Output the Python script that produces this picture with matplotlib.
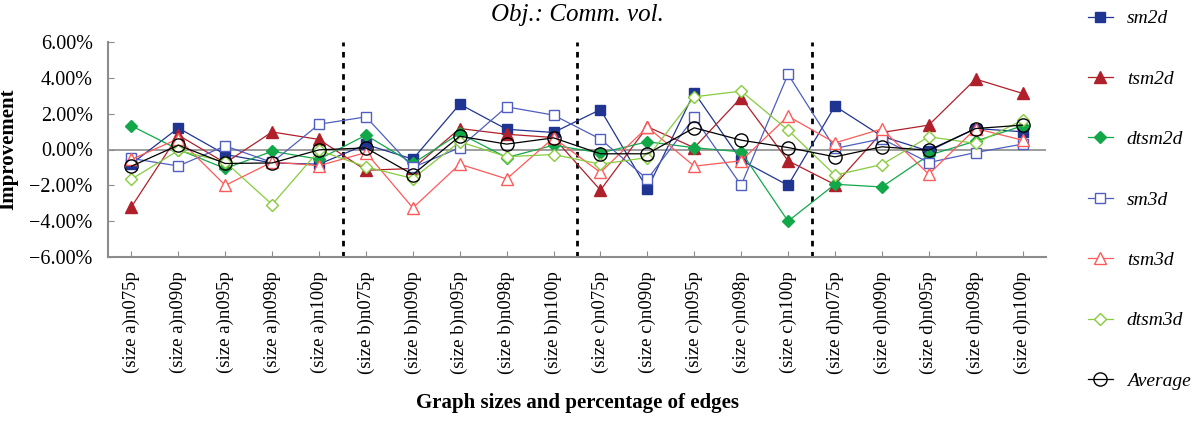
import matplotlib
matplotlib.use("Agg")
import matplotlib.pyplot as plt
import numpy as np
from matplotlib.ticker import FuncFormatter

plt.rcParams['font.family'] = ['Liberation Serif', 'DejaVu Serif']

categories = ["(size a)n075p", "(size a)n090p", "(size a)n095p", "(size a)n098p", "(size a)n100p",
              "(size b)n075p", "(size b)n090p", "(size b)n095p", "(size b)n098p", "(size b)n100p",
              "(size c)n075p", "(size c)n090p", "(size c)n095p", "(size c)n098p", "(size c)n100p",
              "(size d)n075p", "(size d)n090p", "(size d)n095p", "(size d)n098p", "(size d)n100p"]

sm2d = [-0.80, 1.20, -0.28, -0.75, -0.82, 0.28, -0.54, 2.53, 1.13, 0.95,
        2.23, -2.20, 3.18, -0.60, -2.00, 2.42, 0.74, -0.09, 1.17, 0.99]
tsm2d = [-3.20, 0.80, -0.75, 0.98, 0.56, -1.16, -1.06, 1.17, 0.85, 0.67,
         -2.27, 1.27, 0.10, 2.90, -0.63, -1.96, 0.95, 1.36, 3.93, 3.13]
dtsm2d = [1.32, 0.00, -1.06, -0.10, -0.54, 0.80, -0.78, 0.90, -0.45, 0.24,
          -0.19, 0.43, 0.10, -0.13, -4.00, -1.94, -2.09, -0.32, 0.47, 1.32]
sm3d = [-0.50, -0.92, 0.20, -0.72, 1.41, 1.82, -1.00, 0.10, 2.38, 1.92,
        0.58, -1.66, 1.79, -2.00, 4.20, 0.06, 0.60, -0.73, -0.17, 0.30]
tsm3d = [-0.55, 0.60, -2.00, -0.70, -0.90, -0.17, -3.26, -0.82, -1.64, 0.65,
         -1.28, 1.25, -0.93, -0.63, 1.86, 0.37, 1.15, -1.38, 1.17, 0.52]
dtsm3d = [-1.66, -0.05, -0.70, -3.07, -0.05, -0.97, -1.62, 0.43, -0.40, -0.28,
          -0.82, -0.45, 2.94, 3.26, 1.08, -1.43, -0.84, 0.71, 0.34, 1.64]
average = [-0.93, 0.24, -0.78, -0.75, -0.02, 0.09, -1.40, 0.74, 0.30, 0.65,
           -0.24, -0.24, 1.21, 0.52, 0.11, -0.41, 0.15, -0.04, 1.17, 1.36]

series_names = ["sm2d", "tsm2d", "dtsm2d", "sm3d", "tsm3d", "dtsm3d", "Average"]
group_bounds = [4.5, 9.5, 14.5]
yticks = [-6, -4, -2, 0, 2, 4, 6]

W, H = 1194, 438
fig = plt.figure(figsize=(W / 100, H / 100), dpi=100)
ax = fig.add_axes([108 / W, 1 - 257 / H, (1046 - 108) / W, (257 - 42) / H])

x = np.arange(len(categories))
styles = [
    dict(color="#1f3591", marker="s", mfc="#1f3591", mec="#1f3591", ms=6.5),
    dict(color="#b0202a", marker="^", mfc="#b0202a", mec="#b0202a", ms=8),
    dict(color="#12a84a", marker="D", mfc="#12a84a", mec="#12a84a", ms=6),
    dict(color="#4f5fc0", marker="s", mfc="white", mec="#4f5fc0", ms=6.5),
    dict(color="#ff5a5a", marker="^", mfc="white", mec="#ff5a5a", ms=8),
    dict(color="#86cc3c", marker="D", mfc="white", mec="#86cc3c", ms=6),
    dict(color="black", marker="o", mfc="none", mec="black", ms=9.5),
]
data = [sm2d, tsm2d, dtsm2d, sm3d, tsm3d, dtsm3d, average]
handles = []
ax.axhline(0, color="#8c8c8c", lw=1.2, zorder=1)
for name, vals, st in zip(series_names, data, styles):
    h, = ax.plot(x, vals, lw=0.9, mew=1.0, label=name, zorder=3, **st)
    handles.append(h)

for b in group_bounds:
    ax.axvline(b, color="black", lw=2.0, ls=(0, (2, 2)), zorder=2)

ax.set_xlim(-0.5, len(categories) - 0.5)
ax.set_ylim(-6, 6)
ax.set_yticks(yticks)
ax.yaxis.set_major_formatter(FuncFormatter(lambda v, p: ("\u2212" if v < 0 else "") + f"{abs(v):.2f}%"))
ax.set_xticks(x)
ax.set_xticklabels(categories, rotation=90, fontsize=13.5)
ax.tick_params(axis="y", direction="in", length=4, color="#8c8c8c", labelsize=14.5, pad=11)
ax.tick_params(axis="x", direction="in", length=4, color="#8c8c8c", pad=10)
for s in ["top", "right"]:
    ax.spines[s].set_visible(False)
for s in ["left", "bottom"]:
    ax.spines[s].set_color("#8c8c8c")
    ax.spines[s].set_linewidth(1.5)

ax.set_title("Obj.: Comm. vol.", fontsize=18, style="italic", pad=15)
ax.set_ylabel("Improvement", fontsize=15, fontweight="bold", labelpad=8)
ax.set_xlabel("Graph sizes and percentage of edges", fontsize=15, fontweight="bold", labelpad=14)

fig.legend(handles=handles, labels=series_names, loc="upper left",
           bbox_to_anchor=(1080 / W, 1 - 2 / H), frameon=False,
           prop=dict(family="Liberation Serif", style="italic", size=14),
           handlelength=1.3, handletextpad=0.7, labelspacing=2.2, borderaxespad=0)

fig.savefig("out.png", dpi=100)
